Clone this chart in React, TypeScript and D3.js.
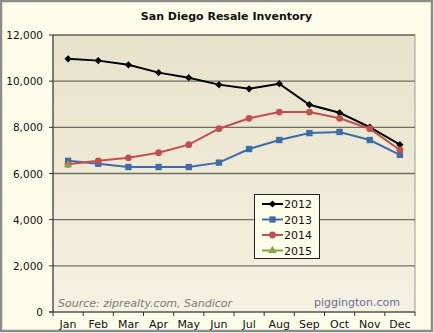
import React from "react";
import * as d3 from "d3";

const months = ["Jan","Feb","Mar","Apr","May","Jun","Jul","Aug","Sep","Oct","Nov","Dec"];
const s2012 = [10970, 10890, 10710, 10370, 10150, 9850, 9670, 9890, 8980, 8630, 8010, 7250];
const s2013 = [6550, 6420, 6280, 6280, 6280, 6470, 7060, 7450, 7750, 7800, 7450, 6810];
const s2014 = [6400, 6550, 6680, 6900, 7250, 7940, 8390, 8660, 8660, 8390, 7940, 7020];
const s2015 = [6370];
const yTicks = [0, 2000, 4000, 6000, 8000, 10000, 12000];
const seriesNames = ["2012", "2013", "2014", "2015"];
const seriesColors = ["#000000", "#3d6ca8", "#c0504d", "#86a44a"];
const seriesShapes = [d3.symbolSquare, d3.symbolSquare, d3.symbolCircle, d3.symbolTriangle];
const seriesRot = [45, 0, 0, 0];
const seriesSizes = [26, 40, 36, 30];

export default function App() {
  const W = 434, H = 333;
  const left = 53, right = 415, top = 35, bottom = 312;
  const x = d3.scaleBand<string>().domain(months).range([left, right]);
  const y = d3.scaleLinear().domain([0, 12000]).range([bottom, top]);
  const cx = (i: number) => (x(months[i]) as number) + x.bandwidth() / 2;
  const line = d3.line<number>().x((_, i) => cx(i)).y((d) => y(d));
  const all = [s2012, s2013, s2014, s2015];
  const font = "Verdana, 'DejaVu Sans', sans-serif";
  const sym = (k: number) => d3.symbol().type(seriesShapes[k]).size(seriesSizes[k])() || "";

  return (
    <svg width={W} height={H} style={{ position: "absolute", left: 0, top: 0 }}>
      <defs>
        <linearGradient id="pg" x1="0" y1="0" x2="0" y2="1">
          <stop offset="0" stopColor="#e7e2cb" />
          <stop offset="1" stopColor="#f4f1e1" />
        </linearGradient>
      </defs>
      <rect x={1} y={1} width={W - 3} height={H - 3} fill="#fefde9" stroke="#8c8c8c" strokeWidth={2.5} />
      <text x={226.5} y={20} textAnchor="middle" fontFamily={font} fontWeight="bold" fontSize={11} fill="#111">
        San Diego Resale Inventory
      </text>
      <rect x={left} y={top} width={right - left} height={bottom - top} fill="url(#pg)" stroke="#9a9a9a" strokeWidth={1} />
      {yTicks.map((t) => (
        <g key={t}>
          {t > 0 && <line x1={left} x2={right} y1={y(t)} y2={y(t)} stroke="#6e6e62" strokeWidth={1.3} />}
          <line x1={left - 4} x2={left} y1={y(t)} y2={y(t)} stroke="#333" strokeWidth={1} />
          <text x={left - 10} y={y(t) + 4} textAnchor="end" fontFamily={font} fontSize={10.5} fill="#111">
            {d3.format(",")(t)}
          </text>
        </g>
      ))}
      <line x1={left} x2={left} y1={top} y2={bottom} stroke="#333" strokeWidth={1} />
      <line x1={left - 4} x2={right} y1={bottom} y2={bottom} stroke="#333" strokeWidth={1} />
      {months.map((m, i) => (
        <g key={m}>
          <line x1={(x(m) as number) + x.bandwidth()} x2={(x(m) as number) + x.bandwidth()} y1={bottom} y2={bottom + 4} stroke="#333" />
          <text x={cx(i)} y={bottom + 16} textAnchor="middle" fontFamily={font} fontSize={11} fill="#111">{m}</text>
        </g>
      ))}
      <line x1={left} x2={left} y1={bottom} y2={bottom + 4} stroke="#333" />
      <text x={58} y={307} fontFamily={font} fontStyle="italic" fontSize={11} fill="#7a7a7a">Source: ziprealty.com, Sandicor</text>
      <text x={400} y={306} textAnchor="end" fontFamily={font} fontSize={11} fill="#6b6b95">piggington.com</text>
      {all.map((s, k) => (
        <g key={k}>
          <path d={line(s) || ""} fill="none" stroke={seriesColors[k]} strokeWidth={2} />
          {s.map((v, i) => (
            <path key={i} transform={`translate(${cx(i)},${y(v)}) rotate(${seriesRot[k]})`} d={sym(k)} fill={seriesColors[k]} />
          ))}
        </g>
      ))}
      <g>
        <rect x={254.5} y={194.5} width={65} height={64} fill="#fefde9" stroke="#222" strokeWidth={1} />
        {seriesNames.map((n, k) => {
          const ly = 204 + k * 15.5;
          return (
            <g key={n}>
              <line x1={262} x2={283} y1={ly} y2={ly} stroke={seriesColors[k]} strokeWidth={2} />
              <path transform={`translate(272.5,${ly}) rotate(${seriesRot[k]})`} d={sym(k)} fill={seriesColors[k]} />
              <text x={284} y={ly + 4} fontFamily={font} fontSize={11} fill="#111">{n}</text>
            </g>
          );
        })}
      </g>
    </svg>
  );
}
